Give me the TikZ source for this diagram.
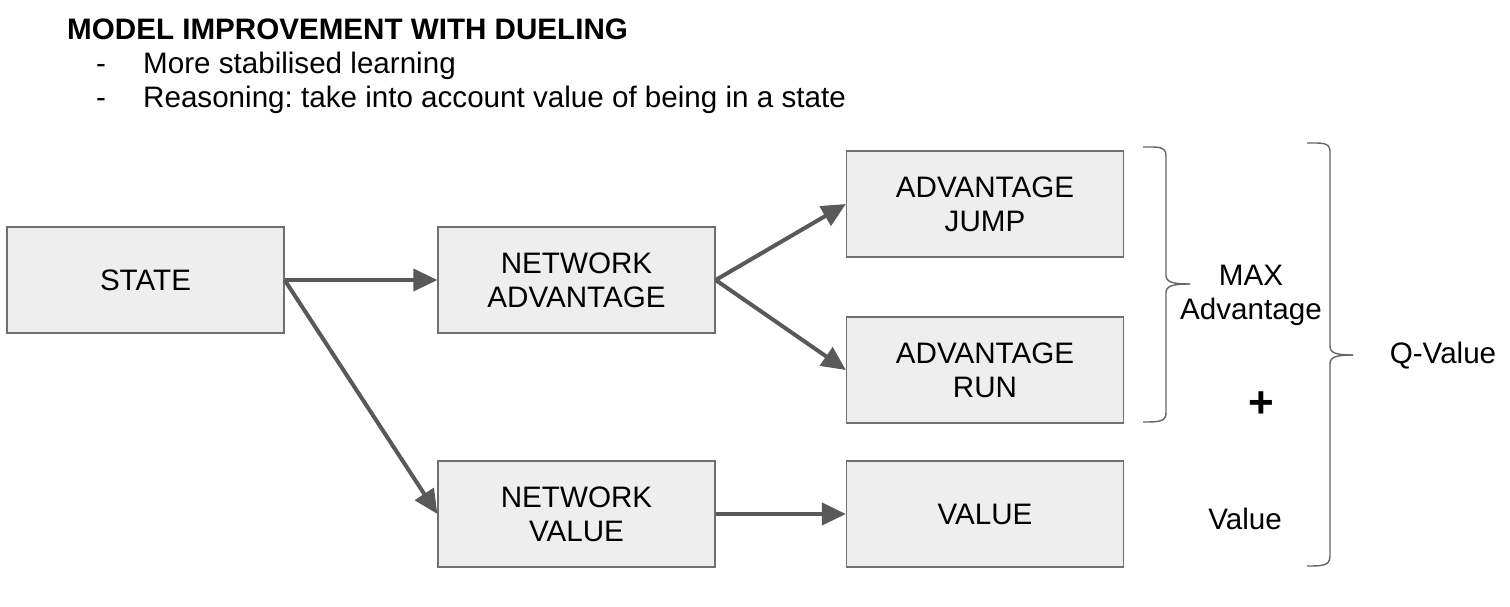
\documentclass[tikz,border=0pt]{standalone}
\usepackage{fontspec}
\setmainfont{Liberation Sans}
\usetikzlibrary{arrows.meta}
\definecolor{arr}{HTML}{595959}
\definecolor{boxfill}{HTML}{EEEEEE}
\definecolor{boxline}{HTML}{6F6F6F}
\definecolor{bracecol}{HTML}{666666}
\newcommand\myfs{\fontsize{29.6}{34}\selectfont}
\frenchspacing
\begin{document}
\begin{tikzpicture}[x=1pt,y=-1pt,
  box/.style={draw=boxline,fill=boxfill,line width=1.3pt,minimum width=277pt,minimum height=106pt,inner sep=0pt,align=center,font=\myfs},
  arrow/.style={draw=arr,line width=4pt,-{Triangle[length=24pt,width=22pt]}},
  brace/.style={draw=bracecol,line width=1.4pt},
  txt/.style={font=\myfs,inner sep=0pt}]
\useasboundingbox[fill=white] (0,0) rectangle (1510,606);

% title and bullets
\node[txt,font=\myfs\bfseries,anchor=base west] (title) at (67,39) {MODEL IMPROVEMENT WITH DUELING};
\node[txt,anchor=base] (d1) at (101,73.5) {-};
\node[txt,anchor=base west] (b1) at (143,73.5) {More stabilised learning};
\node[txt,anchor=base] (d2) at (101,107.5) {-};
\node[txt,anchor=base west] (b2) at (143,107.5) {Reasoning: take into account value of being in a state};

% boxes
\node[box] (S) at (145.5,280) {STATE};
\node[box] (NA) at (576.5,280) {NETWORK\\ADVANTAGE};
\node[box] (NV) at (576.5,514) {NETWORK\\VALUE};
\node[box] (AJ) at (985,204) {ADVANTAGE\\JUMP};
\node[box] (AR) at (985,370) {ADVANTAGE\\RUN};
\node[box] (V) at (985,514) {VALUE};

% arrows
\draw[arrow] (S.east) -- (NA.west);
\draw[arrow] (S.east) -- (NV.west);
\draw[arrow] (NA.east) -- (AJ.west);
\draw[arrow] (NA.east) -- (AR.west);
\draw[arrow] (NV.east) -- (V.west);

% inner brace
\draw[brace] (1143,147) .. controls (1158,147) and (1166,146) .. (1166,156) -- (1166,275)
  .. controls (1166,282) and (1172,284) .. (1190,284);
\draw[brace] (1190,284) .. controls (1172,284) and (1166,286) .. (1166,293) -- (1166,413)
  .. controls (1166,422) and (1158,422) .. (1143,422);
% outer brace
\draw[brace] (1307,143) .. controls (1322,143) and (1330,142) .. (1330,152) -- (1330,346)
  .. controls (1330,353) and (1336,355) .. (1353,355);
\draw[brace] (1353,355) .. controls (1336,355) and (1330,357) .. (1330,364) -- (1330,556)
  .. controls (1330,566) and (1322,566) .. (1307,566);

% labels
\node[txt,align=center] (maxadv) at (1251,295) {MAX\\Advantage};
\node[txt,font=\fontsize{44}{44}\selectfont\bfseries] (plus) at (1261,405) {+};
\node[txt] (val) at (1245,519) {Value};
\node[txt] (q) at (1443,356) {Q-Value};
\end{tikzpicture}
\end{document}
